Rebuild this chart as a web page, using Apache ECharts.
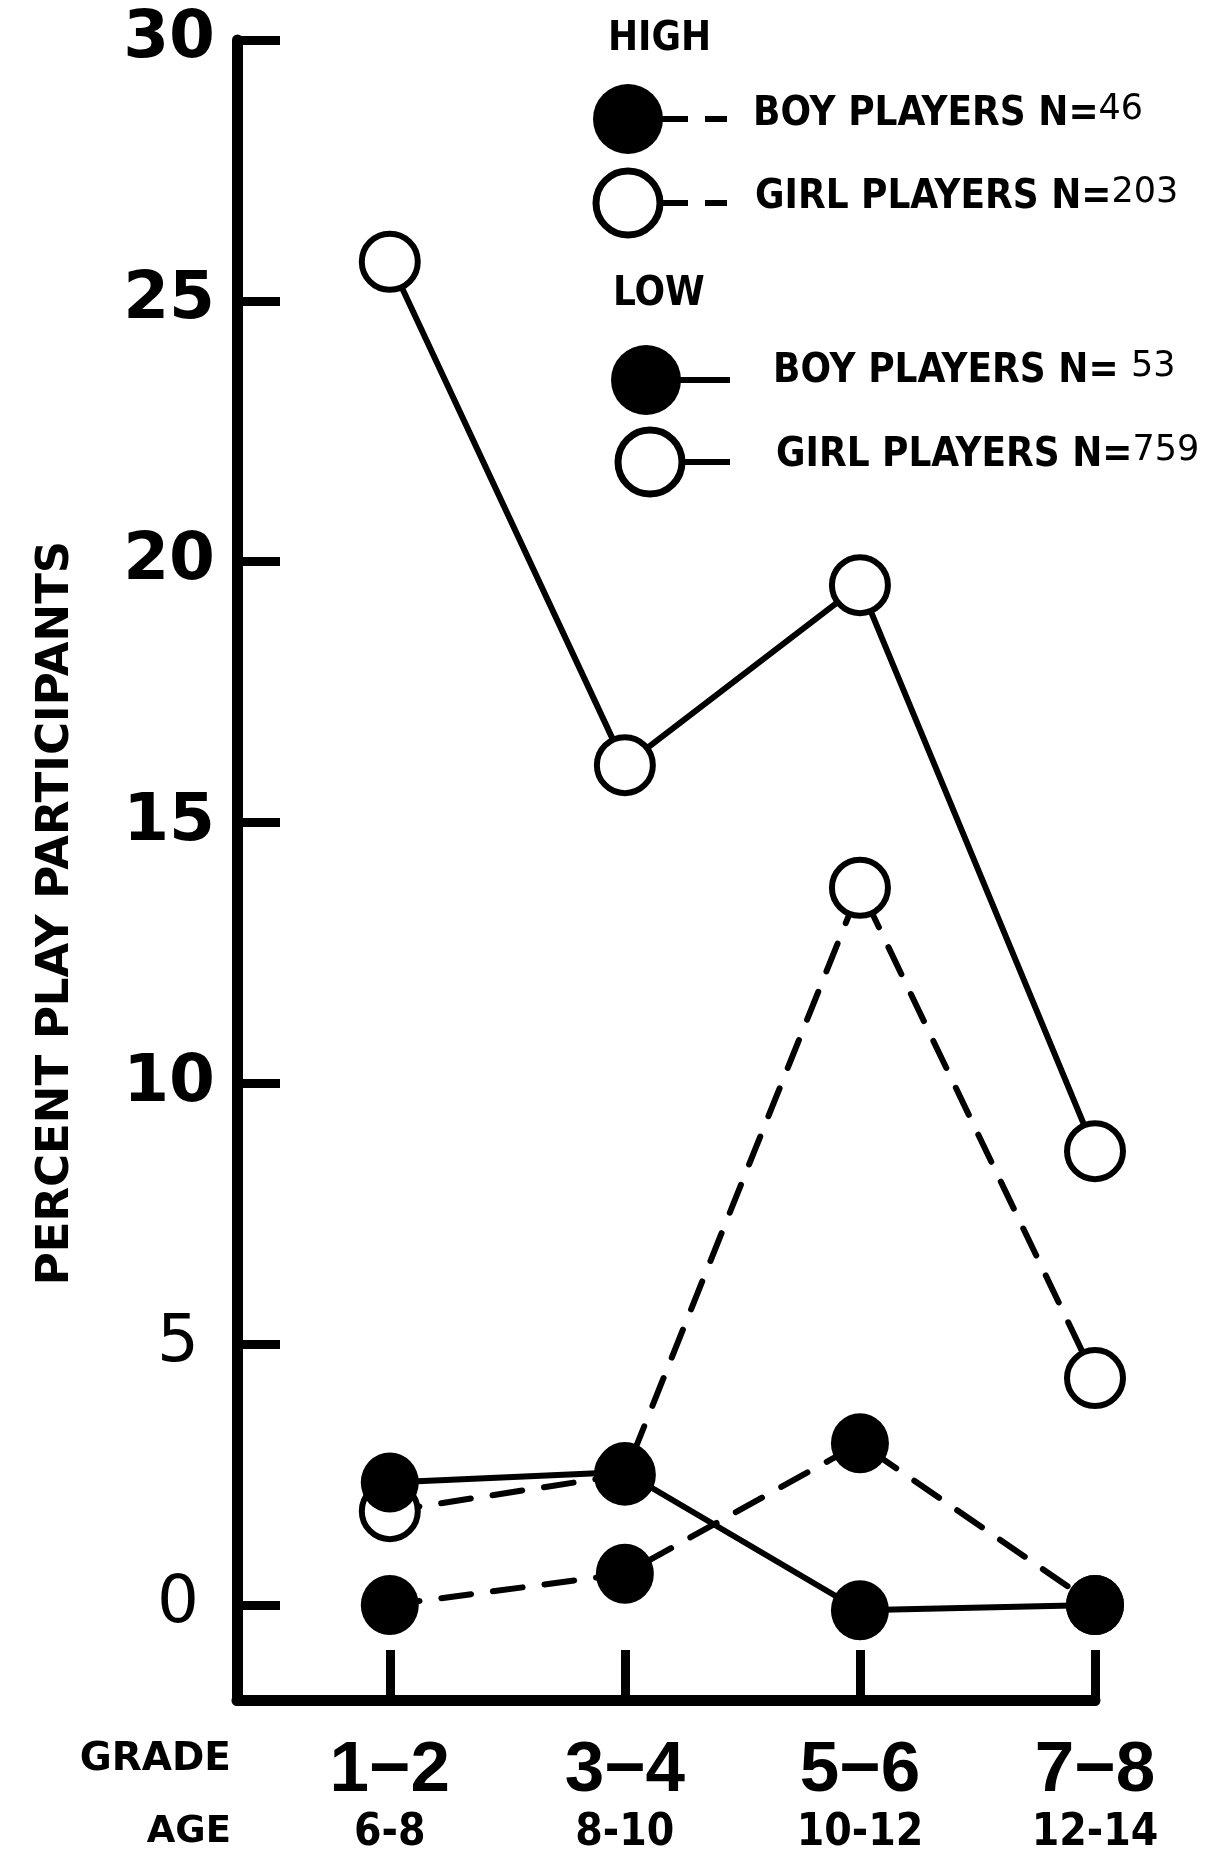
<!DOCTYPE html>
<html><head><meta charset="utf-8">
<script src="https://cdn.jsdelivr.net/npm/echarts@6/dist/echarts.min.js"></script>
<style>html,body{margin:0;padding:0;background:#fff}#c{width:1221px;height:1859px}</style>
</head><body><div id="c"></div>
<script>
const grades = ['1\u22122','3\u22124','5\u22126','7\u22128'];
const ages = ['6-8','8-10','10-12','12-14'];
const yTicks = [0,5,10,15,20,25,30];
const xTicks = [1,2,3,4];
const highBoys = [0, 0.6, 3.1, 0];
const highGirls = [1.8, 2.5, 13.75, 4.35];
const lowBoys = [2.35, 2.55, -0.1, 0];
const lowGirls = [25.75, 16.1, 19.55, 8.7];
const legendLabels = [
  ['BOY PLAYERS N=', '46'],
  ['GIRL PLAYERS N=', '203'],
  ['BOY PLAYERS N= ', '53'],
  ['GIRL PLAYERS N=', '759']
];

function pts(arr){ return arr.map((v,i)=>[xTicks[i], v]); }
const dash = [30, 22];
const openItem = {color:'#fff', borderColor:'#000', borderWidth:6};
const fillItem = {color:'#000', borderColor:'#000', borderWidth:0};
const cond = '"DejaVu Sans Condensed","DejaVu Sans",sans-serif';
const dv = '"DejaVu Sans",sans-serif';
const lib = '"Liberation Sans",Arial,sans-serif';

const chart = echarts.init(document.getElementById('c'), null, {renderer:'canvas'});
const legText = (x, y, pair) => ({
  type:'text', x:x, y:y,
  style:{
    text:'{b|'+pair[0]+'}{n|'+pair[1]+'}',
    verticalAlign:'middle', textVerticalAlign:'middle',
    rich:{
      b:{fontFamily:cond, fontWeight:'bold', fontSize:40, fill:'#000', color:'#000'},
      n:{fontFamily:dv, fontWeight:'normal', fontSize:35, fill:'#000', color:'#000', padding:[0,0,10,0]}
    }
  }
});
chart.setOption({
  animation:false,
  backgroundColor:'#fff',
  grid:{left:237, right:126, top:40, bottom:159, containLabel:false},
  xAxis:{
    type:'value', min:0.35, max:4,
    axisLine:{show:true, onZero:false, lineStyle:{color:'#000', width:11}},
    axisTick:{show:true, inside:true, length:50, customValues:xTicks, lineStyle:{color:'#000', width:9}},
    axisLabel:{
      customValues:xTicks, margin:36,
      formatter:v=>'{g|'+grades[v-1]+'}\n{a|'+ages[v-1]+'}',
      rich:{
        g:{fontFamily:lib, fontWeight:'bold', fontSize:71, color:'#000', lineHeight:70, align:'center'},
        a:{fontFamily:cond, fontWeight:'bold', fontSize:44, color:'#000', lineHeight:56, align:'center'}
      }
    },
    splitLine:{show:false}
  },
  yAxis:{
    type:'value', min:-1.82, max:30,
    axisLine:{show:true, lineStyle:{color:'#000', width:11}},
    axisTick:{show:true, inside:true, length:43, customValues:yTicks, lineStyle:{color:'#000', width:9}},
    axisLabel:{
      customValues:yTicks, margin:22,
      formatter:v=> (v<=5 ? '{n|'+v+'}' : '{b|'+v+'}'),
      rich:{
        b:{fontFamily:dv, fontWeight:'bold', fontSize:66, color:'#000'},
        n:{fontFamily:dv, fontWeight:'normal', fontSize:66, color:'#000', padding:[0,16,0,0]}
      }
    },
    splitLine:{show:false},
    name:'PERCENT PLAY PARTICIPANTS', nameLocation:'middle', nameGap:158, nameRotate:90,
    nameTextStyle:{fontFamily:dv, fontWeight:'bold', fontSize:45, color:'#000', padding:[0,86,0,0]}
  },
  series:[
    {name:'HIGH GIRL PLAYERS', type:'line', data:pts(highGirls), symbol:'circle', symbolSize:56,
     lineStyle:{color:'#000', width:6, type:dash, cap:'round'}, itemStyle:openItem, z:2},
    {name:'LOW GIRL PLAYERS', type:'line', data:pts(lowGirls), symbol:'circle', symbolSize:56,
     lineStyle:{color:'#000', width:6}, itemStyle:openItem, z:3},
    {name:'HIGH BOY PLAYERS', type:'line', data:pts(highBoys), symbol:'circle', symbolSize:[58,60],
     lineStyle:{color:'#000', width:6, type:dash, cap:'round'}, itemStyle:fillItem, z:4},
    {name:'LOW BOY PLAYERS', type:'line', data:pts(lowBoys), symbol:'circle', symbolSize:[58,60],
     lineStyle:{color:'#000', width:6}, itemStyle:fillItem, z:5}
  ],
  graphic:[
    {type:'text', x:608, y:40, style:{text:'HIGH', fontFamily:cond, fontWeight:'bold', fontSize:40, fill:'#000', verticalAlign:'middle', textVerticalAlign:'middle'}},
    {type:'line', shape:{x1:640,y1:119,x2:688,y2:119}, style:{stroke:'#000', lineWidth:6}},
    {type:'line', shape:{x1:705,y1:119,x2:727,y2:119}, style:{stroke:'#000', lineWidth:6}},
    {type:'circle', shape:{cx:628, cy:119, r:35}, style:{fill:'#000'}},
    legText(753, 115, legendLabels[0]),
    {type:'line', shape:{x1:640,y1:203,x2:688,y2:203}, style:{stroke:'#000', lineWidth:6}},
    {type:'line', shape:{x1:705,y1:203,x2:727,y2:203}, style:{stroke:'#000', lineWidth:6}},
    {type:'circle', shape:{cx:628, cy:203, r:32}, style:{fill:'#fff', stroke:'#000', lineWidth:7}},
    legText(755, 198, legendLabels[1]),
    {type:'text', x:613, y:295, style:{text:'LOW', fontFamily:cond, fontWeight:'bold', fontSize:40, fill:'#000', verticalAlign:'middle', textVerticalAlign:'middle'}},
    {type:'line', shape:{x1:660,y1:380,x2:730,y2:380}, style:{stroke:'#000', lineWidth:6}},
    {type:'circle', shape:{cx:646, cy:380, r:35}, style:{fill:'#000'}},
    legText(773, 372, legendLabels[2]),
    {type:'line', shape:{x1:660,y1:462,x2:730,y2:462}, style:{stroke:'#000', lineWidth:6}},
    {type:'circle', shape:{cx:650, cy:462, r:32}, style:{fill:'#fff', stroke:'#000', lineWidth:7}},
    legText(776, 456, legendLabels[3]),
    {type:'text', x:231, y:1760, style:{text:'GRADE', fontFamily:dv, fontWeight:'bold', fontSize:39, fill:'#000', align:'right', textAlign:'right', verticalAlign:'middle', textVerticalAlign:'middle'}},
    {type:'text', x:231, y:1832, style:{text:'AGE', fontFamily:dv, fontWeight:'bold', fontSize:37, fill:'#000', align:'right', textAlign:'right', verticalAlign:'middle', textVerticalAlign:'middle'}}
  ]
});
</script></body></html>
